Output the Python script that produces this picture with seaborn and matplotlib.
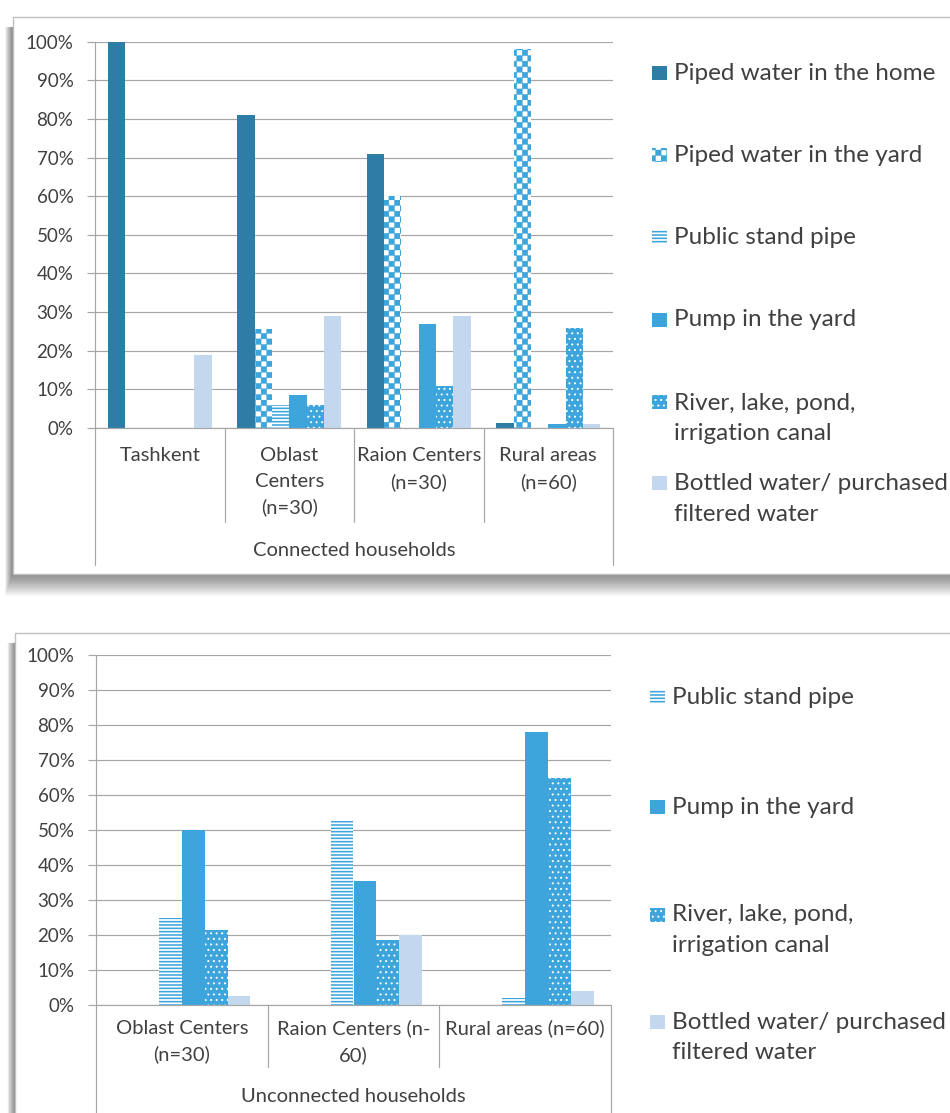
import warnings
warnings.filterwarnings("ignore")

import numpy as np
import pandas as pd
import matplotlib
matplotlib.use("Agg")
import matplotlib.pyplot as plt
import matplotlib.hatch as mhatch
import matplotlib.transforms as mtransforms
from matplotlib.path import Path
from matplotlib.patches import Rectangle
from matplotlib.lines import Line2D
import seaborn as sns

# ---------------------------------------------------------------- data
sources = [
    "Piped water in the home",
    "Piped water in the yard",
    "Public stand pipe",
    "Pump in the yard",
    "River, lake, pond,\nirrigation canal",
    "Bottled water/ purchased\nfiltered water",
]

connected_areas = ["Tashkent", "Oblast\nCenters\n(n=30)", "Raion Centers\n(n=30)", "Rural areas\n(n=60)"]
conn_home = [100, 81, 71, 1.3]
conn_yard = [0, 25.5, 60, 98]
conn_stand = [0, 6, 0, 0]
conn_pump = [0, 8.5, 27, 1]
conn_river = [0, 6, 11, 26]
conn_bottled = [19, 29, 29, 1]

unconnected_areas = ["Oblast Centers\n(n=30)", "Raion Centers (n-\n60)", "Rural areas (n=60)"]
unconn_home = [0, 0, 0]
unconn_yard = [0, 0, 0]
unconn_stand = [25, 52.5, 2]
unconn_pump = [50, 35.5, 78]
unconn_river = [21.5, 18.5, 65]
unconn_bottled = [2.5, 20, 4]

y_ticks = list(range(0, 101, 10))
y_tick_labels = [f"{t}%" for t in y_ticks]


# ---------------------------------------------------------------- checkerboard hatch ('c')
class CheckerHatch(mhatch.HatchPatternBase):
    def __init__(self, hatch, density):
        self.num_cells = int(hatch.count("c") * density * 3)
        n = self.num_cells
        self.num_vertices = ((n * n + 1) // 2) * 5 if n else 0

    def set_vertices_and_codes(self, vertices, codes):
        n = self.num_cells
        s = 1.0 / n
        k = 0
        for i in range(n):
            for j in range(n):
                if (i + j) % 2 == 0:
                    x0, y0 = i * s, j * s
                    vertices[k:k + 5] = [(x0, y0), (x0 + s, y0), (x0 + s, y0 + s),
                                         (x0, y0 + s), (x0, y0)]
                    codes[k:k + 5] = [Path.MOVETO, Path.LINETO, Path.LINETO,
                                      Path.LINETO, Path.CLOSEPOLY]
                    k += 5


mhatch._hatch_types.append(CheckerHatch)

# ---------------------------------------------------------------- style
sns.set_style("white")
plt.rcParams["font.family"] = ["Lato", "DejaVu Sans"]
plt.rcParams["hatch.linewidth"] = 1.0

TEXT = "#404040"
GRID = "#A6A6A6"
BLUE_DARK = "#2E7DA7"
BLUE = "#3DA5DC"
BLUE_LIGHT = "#C3D8EE"

styles = {
    sources[0]: dict(face=BLUE_DARK, edge=BLUE_DARK, hatch=None, hlw=None),
    sources[1]: dict(face="white", edge=BLUE, hatch="c", hlw=0.3),
    sources[2]: dict(face="white", edge=BLUE, hatch="-----", hlw=1.15),
    sources[3]: dict(face=BLUE, edge=BLUE, hatch=None, hlw=None),
    sources[4]: dict(face=BLUE, edge="white", hatch="...", hlw=0.7),
    sources[5]: dict(face=BLUE_LIGHT, edge=BLUE_LIGHT, hatch=None, hlw=None),
}

W, H = 950, 1113
fig = plt.figure(figsize=(W / 100, H / 100), dpi=100)
fig.patch.set_facecolor("white")


def fx(px):
    return px / W


def fy(py):
    return 1 - py / H


def set_hatch_lw(p, lw):
    if lw is None:
        return
    if hasattr(p, "set_hatch_linewidth"):
        p.set_hatch_linewidth(lw)
    elif hasattr(p, "_hatch_linewidth"):
        p._hatch_linewidth = lw


def style_patch(p, name):
    st = styles[name]
    p.set_facecolor(st["face"])
    p.set_edgecolor(st["edge"])
    p.set_linewidth(0)
    if st["hatch"]:
        p.set_hatch(st["hatch"])
        set_hatch_lw(p, st["hlw"])


def chart_box(x0, y0, x1, y1):
    # soft drop shadow, then the white frame
    for k in range(1, 23):
        fig.add_artist(Rectangle((fx(x0 - k * 0.35), fy(y1 + k)),
                                 fx(x1 - x0 + k * 0.7), (y1 + k - (y0 + 10)) / H,
                                 transform=fig.transFigure, facecolor="black",
                                 edgecolor="none", alpha=0.022, zorder=-3))
    fig.add_artist(Rectangle((fx(x0), fy(y1)), fx(x1 - x0), (y1 - y0) / H,
                             transform=fig.transFigure, facecolor="white",
                             edgecolor="#BFBFBF", linewidth=1.0, zorder=-2))


def draw_panel(ax, areas, values, inner_drop, outer_drop, label_pad, title, title_y):
    records = []
    for name, vals in zip(sources, values):
        for area, v in zip(areas, vals):
            records.append({"area": area, "source": name, "share": v})
    df = pd.DataFrame(records)
    sns.barplot(data=df, x="area", y="share", hue="source", order=areas,
                hue_order=sources, palette=[styles[s]["face"] for s in sources],
                saturation=1, width=0.8, errorbar=None, legend=False, ax=ax)
    for name, cont in zip(sources, ax.containers):
        for bar in cont:
            style_patch(bar, name)

    n = len(areas)
    ax.set_xlim(-0.5, n - 0.5)
    ax.set_ylim(0, 100)
    ax.set_yticks(y_ticks)
    ax.set_yticklabels(y_tick_labels)
    ax.set_xlabel("")
    ax.set_ylabel("")
    ax.set_facecolor("none")
    ax.grid(axis="y", color=GRID, linewidth=0.85)
    ax.set_axisbelow(True)
    for side in ("top", "right"):
        ax.spines[side].set_visible(False)
    for side in ("left", "bottom"):
        ax.spines[side].set_color(GRID)
        ax.spines[side].set_linewidth(0.85)
    ax.tick_params(axis="y", length=6, width=0.85, color=GRID, pad=9.5,
                   labelsize=13.5, labelcolor=TEXT, left=True)
    ax.tick_params(axis="x", length=0, pad=label_pad, labelsize=14.5, labelcolor=TEXT)
    for lab in ax.get_xticklabels():
        lab.set_linespacing(1.58)

    # multi-level category separators below the axis
    trans = mtransforms.blended_transform_factory(ax.transData, ax.transAxes)
    for i in range(n + 1):
        xpos = i - 0.5
        drop = outer_drop if i in (0, n) else inner_drop
        ax.add_line(Line2D([xpos, xpos], [0, drop], transform=trans, color=GRID,
                           linewidth=0.85, clip_on=False))
    ax.text(0.5, title_y, title, transform=ax.transAxes, ha="center", va="center",
            fontsize=14.5, color=TEXT)


def draw_key(entries, marker_x, text_x, ys, centers):
    for name, y, yc in zip(entries, ys, centers):
        p = Rectangle((fx(marker_x), fy(y + 7)), 15 / W, 14 / H,
                      transform=fig.transFigure)
        style_patch(p, name)
        fig.add_artist(p)
        fig.text(fx(text_x), fy(yc), name, ha="left", va="center", fontsize=17.5,
                 color=TEXT, linespacing=1.56)


# ---------------------------------------------------------------- top: connected
chart_box(12.5, 17, 1000, 574)
ax1 = fig.add_axes([fx(95), fy(428), 518 / W, 386.3 / H])
draw_panel(ax1, connected_areas,
           [conn_home, conn_yard, conn_stand, conn_pump, conn_river, conn_bottled],
           inner_drop=(428 - 522) / 386.3, outer_drop=(428 - 565) / 386.3,
           label_pad=14, title="Connected households", title_y=(428 - 550) / 386.3)
draw_key(sources, 651.5, 674,
         [73, 155, 237, 320, 402, 483],
         [73, 155, 237, 320, 418.5, 499])

# ---------------------------------------------------------------- bottom: unconnected
chart_box(15, 632.5, 1000, 1160)
ax2 = fig.add_axes([fx(96), fy(1005), 515 / W, 350 / H])
draw_panel(ax2, unconnected_areas,
           [unconn_home, unconn_yard, unconn_stand, unconn_pump, unconn_river, unconn_bottled],
           inner_drop=(1005 - 1067) / 350, outer_drop=(1005 - 1130) / 350,
           label_pad=10.5, title="Unconnected households", title_y=(1005 - 1097) / 350)
draw_key(sources[2:], 650, 672,
         [697, 807, 915, 1022],
         [697, 807, 930, 1037.5])

fig.savefig("out.png", dpi=100, facecolor="white")
